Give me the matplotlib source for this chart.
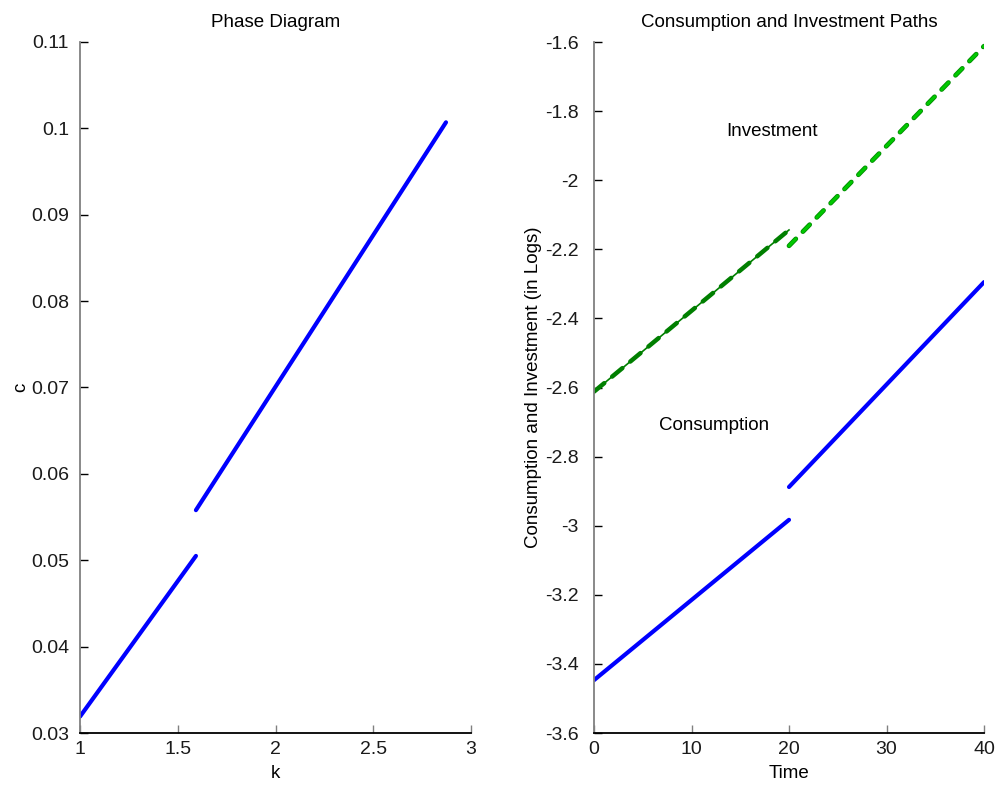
import matplotlib
matplotlib.use("Agg")
import matplotlib.pyplot as plt
import matplotlib.patheffects as pe

plt.rcParams['font.family'] = ['Liberation Sans', 'DejaVu Sans']

# Phase diagram: capital k vs consumption c, before and after the shock
k_before = [1.0, 1.593]
c_before = [0.0319, 0.0505]
k_after = [1.593, 2.872]
c_after = [0.0558, 0.1007]

# Time paths (in logs)
t_before = [0, 20]
t_after = [20, 40]
cons_before = [-3.447, -2.983]
cons_after = [-2.888, -2.295]
inv_before = [-2.612, -2.144]
inv_after = [-2.190, -1.612]

k_ticks = [1, 1.5, 2, 2.5, 3]
k_ticklabels = ['1', '1.5', '2', '2.5', '3']
c_ticks = [0.03, 0.04, 0.05, 0.06, 0.07, 0.08, 0.09, 0.1, 0.11]
c_ticklabels = ['0.03', '0.04', '0.05', '0.06', '0.07', '0.08', '0.09', '0.1', '0.11']
t_ticks = [0, 10, 20, 30, 40]
y_ticks = [-3.6, -3.4, -3.2, -3.0, -2.8, -2.6, -2.4, -2.2, -2.0, -1.8, -1.6]
y_ticklabels = ['-3.6', '-3.4', '-3.2', '-3', '-2.8', '-2.6', '-2.4', '-2.2', '-2', '-1.8', '-1.6']

W, H = 998, 785
fig = plt.figure(figsize=(W / 100, H / 100), dpi=100)

ax1 = fig.add_axes([80 / W, 52 / H, 391 / W, 691 / H])
ax2 = fig.add_axes([594 / W, 52 / H, 390 / W, 691 / H])

BLUE = '#0000ff'
FS_TICK = 14
FS_LABEL = 13.5


def style_axes(ax, ypad):
    for s in ('top', 'right'):
        ax.spines[s].set_visible(False)
    ax.spines['left'].set_color('#808080')
    ax.spines['bottom'].set_color('#000000')
    ax.spines['left'].set_linewidth(1.3)
    ax.spines['bottom'].set_linewidth(1.3)
    ax.tick_params(direction='in', length=6, width=1.0, labelsize=FS_TICK,
                   colors='#1a1a1a')
    ax.tick_params(axis='x', color='#808080', pad=6)
    ax.tick_params(axis='y', color='#000000', pad=ypad)


# Left panel
ax1.plot(k_before, c_before, color=BLUE, lw=3, solid_capstyle='round')
ax1.plot(k_after, c_after, color=BLUE, lw=3, solid_capstyle='round')
ax1.set_xlim(1, 3)
ax1.set_ylim(0.03, 0.11)
ax1.set_xticks(k_ticks)
ax1.set_xticklabels(k_ticklabels)
ax1.set_yticks(c_ticks)
ax1.set_yticklabels(c_ticklabels)
ax1.set_xlabel('k', fontsize=FS_LABEL, labelpad=5)
ax1.set_ylabel('c', fontsize=FS_LABEL, labelpad=1)
ax1.set_title('Phase Diagram', fontsize=13.5, pad=11)
style_axes(ax1, 8)

# Right panel
ax2.plot(t_before, cons_before, color=BLUE, lw=3, solid_capstyle='round')
ax2.plot(t_after, cons_after, color=BLUE, lw=3, solid_capstyle='round')
ax2.plot(t_before, inv_before, color='#007f00', lw=1.2)
ax2.plot(t_before, inv_before, color='#007f00', lw=3.2, ls=(0, (3, 2.3)),
         dash_capstyle='round')
ax2.plot(t_after, inv_after, color='#00c800', lw=2.2, ls=(0, (3.2, 3.3)),
         dash_capstyle='round',
         path_effects=[pe.Stroke(linewidth=3.4, foreground='#008a00'), pe.Normal()])
ax2.text(18.3, -1.86, 'Investment', ha='center', va='center', fontsize=13.5)
ax2.text(12.3, -2.71, 'Consumption', ha='center', va='center', fontsize=13.5)
ax2.set_xlim(0, 40)
ax2.set_ylim(-3.6, -1.6)
ax2.set_xticks(t_ticks)
ax2.set_yticks(y_ticks)
ax2.set_yticklabels(y_ticklabels)
ax2.set_xlabel('Time', fontsize=FS_LABEL, labelpad=5)
ax2.set_ylabel('Consumption and Investment (in Logs)', fontsize=FS_LABEL, labelpad=2)
ax2.set_title('Consumption and Investment Paths', fontsize=13.5, pad=11)
style_axes(ax2, 11)

fig.savefig('out.png', dpi=100)
